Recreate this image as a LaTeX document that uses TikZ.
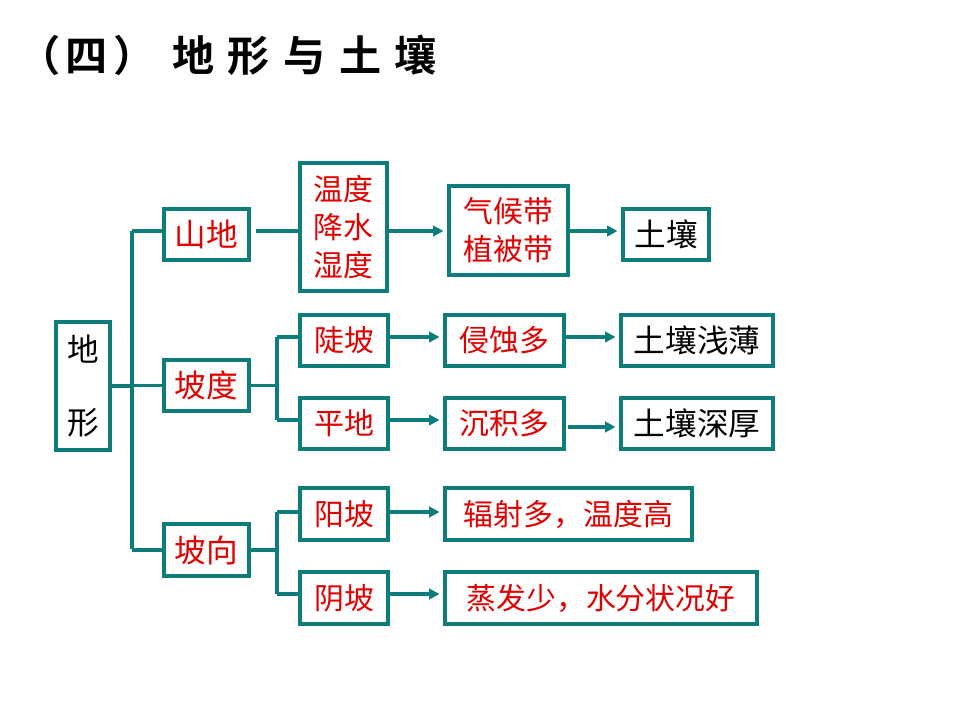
\documentclass[tikz,border=0pt]{standalone}
\usepackage{fontspec}
\usetikzlibrary{arrows.meta}
\newfontfamily\cjk{Noto Sans CJK SC}
\newfontfamily\cjkbold{Noto Sans CJK SC Bold}
\definecolor{teal}{RGB}{14,124,122}
\definecolor{tred}{RGB}{225,0,0}
\newcommand\pbox[7]{\node[box,#6,minimum width={(#4-#2)*0.02cm},minimum height={(#5-#3)*0.02cm}] (#1) at ({(#2+#4)/2},{(#3+#5)/2}) {#7};}
\tikzset{
  box/.style={draw=teal,line width=2.2pt,inner sep=0pt,align=center},
  redt/.style={text=tred,font=\cjk\fontsize{17}{21.5}\selectfont},
  redb/.style={text=tred,font=\cjk\fontsize{18}{22}\selectfont},
  blk/.style={text=black,font=\cjk\fontsize{18}{22}\selectfont},
  conn/.style={draw=teal,line width=2.2pt},
  arr/.style={conn,-{Triangle[length=6pt,width=6pt]},shorten >=2pt}
}
\begin{document}
\begin{tikzpicture}[x=0.02cm,y=-0.02cm]
\useasboundingbox[fill=white] (0,0) rectangle (960,720);
% title
\node[anchor=west,inner sep=0pt,font=\cjkbold\fontsize{24}{24}\selectfont] (t1) at (18,55) {（\hspace{3pt}四\hspace{3pt}）};
\node[anchor=west,inner sep=0pt,font=\cjkbold\fontsize{24}{24}\selectfont\addfontfeature{LetterSpace=32}] (t2) at (172,55) {地形与土壤};
% boxes
\pbox{dx}{56}{322}{110}{450}{blk,font=\cjk\fontsize{18}{42}\selectfont}{地\\形}
\pbox{sd}{164}{209}{249}{260}{redb}{山地}
\pbox{pd}{164}{360}{249}{411}{redb}{坡度}
\pbox{px}{164}{524}{249}{576}{redb}{坡向}
\pbox{wd}{300}{163}{387}{291}{redt}{温度\\降水\\湿度}
\pbox{qh}{449}{186}{568}{275}{redt}{气候带\\植被带}
\pbox{tr}{623}{209}{709}{260}{blk}{土壤}
\pbox{dp}{300}{315}{388}{366}{redt}{陡坡}
\pbox{pdi}{300}{398}{388}{449}{redt}{平地}
\pbox{qs}{445}{315}{564}{366}{redt}{侵蚀多}
\pbox{cj}{445}{398}{564}{449}{redt}{沉积多}
\pbox{qb}{621}{315}{773}{366}{blk}{土壤浅薄}
\pbox{sh}{621}{398}{773}{449}{blk}{土壤深厚}
\pbox{yp}{300}{488}{388}{540}{redt}{阳坡}
\pbox{ypn}{300}{572}{388}{624}{redt}{阴坡}
\pbox{fs}{445}{488}{692}{540}{redt}{辐射多，温度高}
\pbox{zf}{445}{572}{757}{624}{redt}{蒸发少，水分状况好}
% trunk
\coordinate (ta) at (132,231);
\coordinate (tb) at (132,549);
\draw[conn] (ta) -- (tb);
\draw[conn] (dx.east) -- (dx.east -| ta);
\draw[conn] (ta) -- (sd.west |- ta);
\draw[conn] (pd.west -| ta) -- (pd.west);
\draw[conn] (px.west -| ta) -- (px.west);
% mountain row
\coordinate (sa) at (256,231);
\draw[conn] (sa) -- (wd.west |- sa);
\draw[arr] (wd.east |- sa) -- (qh.west |- sa);
\draw[arr] (qh.east |- sa) -- (tr.west |- sa);
% slope degree
\coordinate (ba) at (277,337);
\coordinate (bb) at (277,420);
\draw[conn] (pd.east) -- (pd.east -| ba);
\draw[conn] (ba) -- (bb);
\draw[conn] (ba) -- (dp.west |- ba);
\draw[conn] (bb) -- (pdi.west |- bb);
\draw[arr] (dp.east |- ba) -- (qs.west |- ba);
\draw[arr] (pdi.east |- bb) -- (cj.west |- bb);
\draw[arr] (qs.east |- ba) -- (qb.west |- ba);
\coordinate (bc) at (568,427);
\draw[arr] (bc) -- (sh.west |- bc);
% aspect
\coordinate (ca) at (277,512);
\coordinate (cb) at (277,594);
\draw[conn] (px.east) -- (px.east -| ca);
\draw[conn] (ca) -- (cb);
\draw[conn] (ca) -- (yp.west |- ca);
\draw[conn] (cb) -- (ypn.west |- cb);
\draw[arr] (yp.east |- ca) -- (fs.west |- ca);
\draw[arr] (ypn.east |- cb) -- (zf.west |- cb);
\end{tikzpicture}
\end{document}
